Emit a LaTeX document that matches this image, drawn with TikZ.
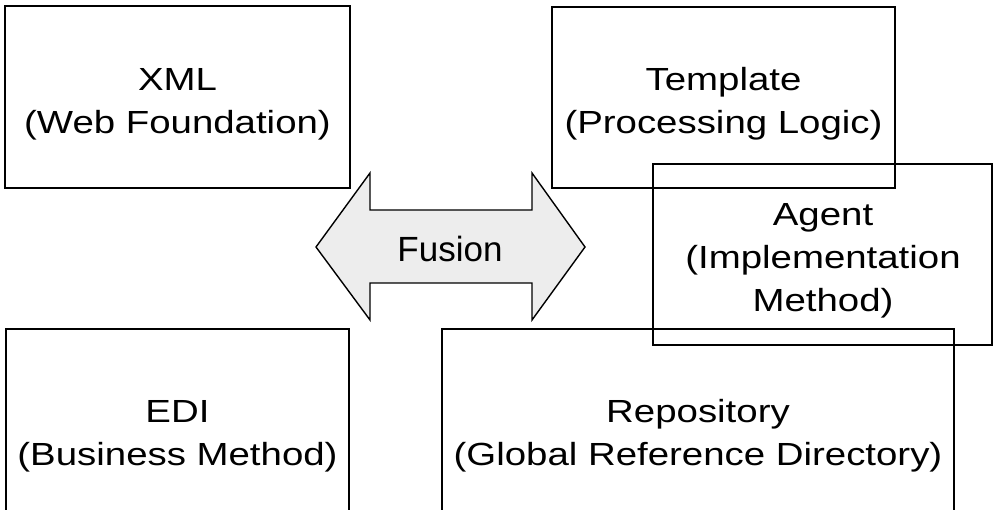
\documentclass[tikz,border=0pt]{standalone}
\usepackage{fontspec}
\setmainfont{Liberation Sans}
\newfontfamily\boxfont[FakeStretch=1.2]{Liberation Sans}
\begin{document}
\begin{tikzpicture}[x=1pt,y=-1pt,
  box/.style={draw, line width=1.2pt, inner sep=0pt},
  boxtext/.style={inner sep=0pt, align=center,
    font=\boxfont\fontsize{32}{43}\selectfont},
  fusionarrow/.style={draw, line width=1.4pt, fill=gray!14, line join=miter},
  fusionlabel/.style={font=\fontsize{35}{40}\selectfont, inner sep=0pt}]
\clip (0,0) rectangle (995,510);
% the five concept boxes (transparent, overlapping)
\node[box, minimum width=345pt, minimum height=182pt] (xml) at (177.5,97) {};
\node[box, minimum width=343pt, minimum height=181pt] (template) at (723.5,97.5) {};
\node[box, minimum width=339pt, minimum height=181pt] (agent) at (822.5,254.5) {};
\node[box, minimum width=343pt, minimum height=206pt] (edi) at (177.5,432) {};
\node[box, minimum width=512pt, minimum height=206pt] (repo) at (698,432) {};
% their captions
\node[boxtext] (xmltext) at (177.5,104) {XML\\(Web Foundation)};
\node[boxtext] (templatetext) at (723.5,104) {Template\\(Processing Logic)};
\node[boxtext] (agenttext) at (823,261) {Agent\\(Implementation\\Method)};
\node[boxtext] (editext) at (177.5,436) {EDI\\(Business Method)};
\node[boxtext] (repotext) at (698,436) {Repository\\(Global Reference Directory)};
% the double-headed fusion arrow
\draw[fusionarrow] (316,247) -- (370,173) -- (370,210) -- (532,210) -- (532,173)
  -- (585,247) -- (532,320) -- (532,283) -- (370,283) -- (370,320) -- cycle;
\node[fusionlabel] (fusion) at (450,249) {Fusion};
\end{tikzpicture}
\end{document}
